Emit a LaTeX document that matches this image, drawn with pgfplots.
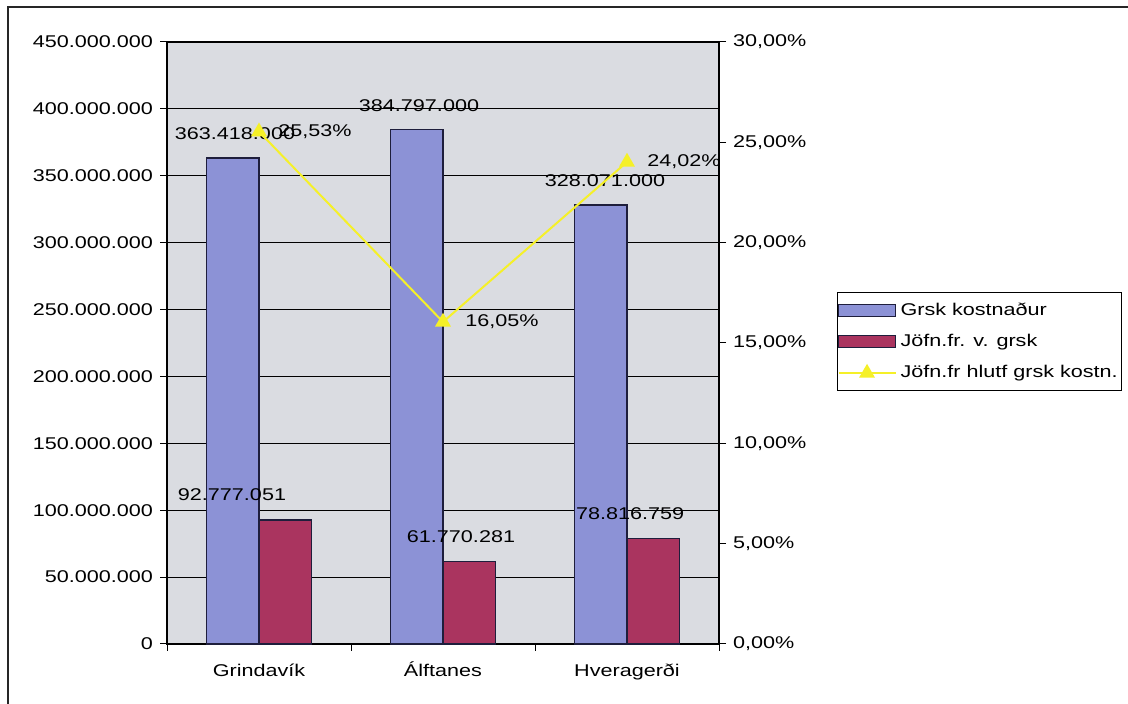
\documentclass[border=0pt]{standalone}
\usepackage{pgfplots}
\pgfplotsset{compat=1.18}
\usepackage{fontspec}
\setmainfont{Liberation Sans}[FakeStretch=1.27]
\definecolor{bluebar}{RGB}{140,146,214}
\definecolor{redbar}{RGB}{170,52,95}
\definecolor{plotbg}{RGB}{218,220,225}
\definecolor{barline}{RGB}{30,30,60}
\definecolor{lineyel}{RGB}{245,240,40}
\newcommand\cf{\fontsize{8.5pt}{10pt}\selectfont}
\begin{document}
\begin{tikzpicture}[x=1pt,y=1pt]
\useasboundingbox (0,0) rectangle (564,352);
\draw[line width=1pt, black!85] (4,0) -- (4,348.5) -- (570,348.5);
\begin{axis}[
  at={(83.5pt,30pt)}, anchor=south west,
  scale only axis, width=276pt, height=301pt,
  xmin=-0.5, xmax=2.5, ymin=0, ymax=450000000,
  scaled y ticks=false,
  axis background/.style={fill=plotbg},
  ybar=0pt, bar width=26.25pt,
  xtick={0,1,2}, xticklabels={Grindavík,Álftanes,Hveragerði},
  major x tick style={draw=none},
  minor xtick={-0.5,0.5,1.5,2.5},
  minor x tick style={black, line width=0.5pt},
  minor tick length=3.5pt,
  ytick={0,50000000,100000000,150000000,200000000,250000000,300000000,350000000,400000000,450000000},
  yticklabels={0,50.000.000,100.000.000,150.000.000,200.000.000,250.000.000,300.000.000,350.000.000,400.000.000,450.000.000},
  ytick pos=left, xtick pos=bottom,
  tick align=outside,
  major tick length=3.5pt,
  major y tick style={black, line width=0.5pt},
  ymajorgrids, grid style={black, line width=0.5pt},
  axis line style={black, line width=0.6pt},
  tick label style={font=\cf},
  xticklabel style={anchor=base, yshift=-13pt},
  clip=false,
]
\addplot[fill=bluebar, draw=barline, line width=0.7pt] coordinates {(0,363418000) (1,384797000) (2,328071000)};
\addplot[fill=redbar, draw=barline, line width=0.7pt] coordinates {(0,92777051) (1,61770281) (2,78816759)};
\node[font=\cf, xshift=-12pt, yshift=12pt] at (axis cs:0,363418000) {363.418.000};
\node[font=\cf, xshift=-12pt, yshift=12pt] at (axis cs:1,384797000) {384.797.000};
\node[font=\cf, xshift=-11pt, yshift=12pt] at (axis cs:2,328071000) {328.071.000};
\node[font=\cf, xshift=-13.5pt, yshift=12.5pt] at (axis cs:0,92777051) {92.777.051};
\node[font=\cf, xshift=9pt, yshift=12.5pt] at (axis cs:1,61770281) {61.770.281};
\node[font=\cf, xshift=1.6pt, yshift=12.5pt] at (axis cs:2,78816759) {78.816.759};
\end{axis}
\begin{axis}[
  at={(83.5pt,30pt)}, anchor=south west,
  scale only axis, width=276pt, height=301pt,
  xmin=-0.5, xmax=2.5, ymin=0, ymax=30,
  axis y line*=right, axis x line=none,
  ytick={0,5,10,15,20,25,30},
  yticklabels={{0,00\%},{5,00\%},{10,00\%},{15,00\%},{20,00\%},{25,00\%},{30,00\%}},
  tick align=outside, major tick length=3.5pt,
  major y tick style={black, line width=0.5pt},
  axis line style={black, line width=0.6pt},
  tick label style={font=\cf},
  clip=false,
  legend cell align=left,
  legend style={at={(1.2138,0.5847)}, anchor=north west, draw=black, line width=0.5pt,
    fill=white, font=\cf, inner xsep=0pt, inner ysep=3pt, row sep=4pt,
    /tikz/every even column/.append style={column sep=0pt}},
]
\addlegendimage{legend image code/.code={\draw[fill=bluebar, draw=barline, line width=0.7pt] (0pt,-3pt) rectangle (28.5pt,3pt);}}
\addlegendentry{Grsk kostnaður}
\addlegendimage{legend image code/.code={\draw[fill=redbar, draw=barline, line width=0.7pt] (0pt,-3pt) rectangle (28.5pt,3pt);}}
\addlegendentry{Jöfn.fr. v. grsk}
\addplot[lineyel, line width=1pt, mark=triangle*, mark size=3.6pt, mark options={fill=lineyel, draw=lineyel},
  legend image code/.code={\draw[mark repeat=2,mark phase=2] plot coordinates {(0pt,0pt) (14.25pt,0pt) (28.5pt,0pt)};}]
  coordinates {(0,25.53) (1,16.05) (2,24.02)};
\addlegendentry{Jöfn.fr hlutf grsk kostn.}
\node[font=\cf, anchor=west, inner sep=0pt, xshift=9.5pt] at (axis cs:0,25.53) {25,53\%};
\node[font=\cf, anchor=west, inner sep=0pt, xshift=11pt] at (axis cs:1,16.05) {16,05\%};
\node[font=\cf, anchor=west, inner sep=0pt, xshift=10pt] at (axis cs:2,24.02) {24,02\%};
\end{axis}
\end{tikzpicture}
\end{document}
